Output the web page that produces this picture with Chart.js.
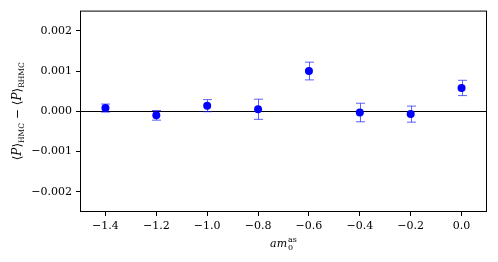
<!DOCTYPE html>
<html>
<head>
<meta charset="utf-8">
<script src="https://cdn.jsdelivr.net/npm/chart.js@4"></script>
<style>
  html, body { margin: 0; padding: 0; background: #fff; }
  #wrap { width: 498px; height: 262px; }
</style>
</head>
<body>
<div id="wrap"><canvas id="chart"></canvas></div>
<script>
// values
const masses = [-1.4, -1.2, -1.0, -0.8, -0.6, -0.4, -0.2, 0.0];
const diffs = [0.00008, -0.0001, 0.00014, 0.00005, 0.001, -0.00003, -0.00007, 0.00058];
const errors = [0.0001, 0.00012, 0.00015, 0.00025, 0.00022, 0.00023, 0.0002, 0.00019];
const xTicks = [-1.4, -1.2, -1.0, -0.8, -0.6, -0.4, -0.2, 0.0];
const yTicks = [-0.002, -0.001, 0.0, 0.001, 0.002];

const serif = "'DejaVu Serif', serif";

const fmt = (v, d) => {
  let s = Math.abs(v).toFixed(d);
  return (v < -1e-12 ? "\u2212" : "") + s;
};

// error bars, zero line, frame and axis titles
const extras = {
  id: "extras",
  beforeDatasetsDraw(chart) {
    const { ctx, chartArea: a, scales: { x, y } } = chart;
    ctx.save();
    // zero line
    const y0 = y.getPixelForValue(0);
    ctx.strokeStyle = "#000";
    ctx.lineWidth = 1;
    ctx.beginPath();
    ctx.moveTo(a.left, Math.round(y0) + 0.5);
    ctx.lineTo(a.right, Math.round(y0) + 0.5);
    ctx.stroke();
    // error bars
    ctx.strokeStyle = "rgba(30,30,255,0.7)";
    masses.forEach((m, i) => {
      const px = Math.round(x.getPixelForValue(m)) + 0.5;
      const top = y.getPixelForValue(diffs[i] + errors[i]);
      const bot = y.getPixelForValue(diffs[i] - errors[i]);
      ctx.beginPath();
      ctx.moveTo(px, top);
      ctx.lineTo(px, bot);
      ctx.moveTo(px - 4.5, top);
      ctx.lineTo(px + 4.5, top);
      ctx.moveTo(px - 4.5, bot);
      ctx.lineTo(px + 4.5, bot);
      ctx.stroke();
    });
    ctx.restore();
  },
  afterDraw(chart) {
    const { ctx, chartArea: a } = chart;
    ctx.save();
    ctx.strokeStyle = "#000";
    ctx.lineWidth = 1;
    ctx.strokeRect(a.left + 0.5, a.top + 0.5, a.right - a.left - 1, a.bottom - a.top - 1);

    // x title: a m_0^{as}
    ctx.fillStyle = "#000";
    ctx.textBaseline = "alphabetic";
    ctx.font = "italic 11px " + serif;
    const main = "am";
    const wMain = ctx.measureText(main).width;
    ctx.font = "italic 8px " + serif;
    const wSub = ctx.measureText("0").width;
    const wSup = ctx.measureText("as").width;
    const total = wMain + Math.max(wSub, wSup) + 1;
    let cx = (a.left + a.right) / 2 - total / 2;
    const base = 247;
    ctx.font = "italic 11px " + serif;
    ctx.fillText(main, cx, base);
    ctx.font = "8px " + serif;
    ctx.fillText("0", cx + wMain + 1, base + 3);
    ctx.fillText("as", cx + wMain + 1, base - 5);

    // y title: <P>_HMC - <P>_RHMC, rotated
    ctx.translate(18, (a.top + a.bottom) / 2);
    ctx.rotate(-Math.PI / 2);
    const parts = [
      ["\u27E8", "12px " + serif, 0],
      ["P", "italic 12px " + serif, 0],
      ["\u27E9", "12px " + serif, 0],
      ["HMC", "7.5px " + serif, 3],
      [" \u2212 ", "12px " + serif, 0],
      ["\u27E8", "12px " + serif, 0],
      ["P", "italic 12px " + serif, 0],
      ["\u27E9", "12px " + serif, 0],
      ["RHMC", "7.5px " + serif, 3]
    ];
    let w = 0;
    parts.forEach(p => { ctx.font = p[1]; w += ctx.measureText(p[0]).width; });
    let px = -w / 2;
    parts.forEach(p => {
      ctx.font = p[1];
      ctx.fillText(p[0], px, 3 + p[2]);
      px += ctx.measureText(p[0]).width;
    });
    ctx.restore();
  }
};

new Chart(document.getElementById("chart"), {
  type: "scatter",
  data: {
    datasets: [{
      data: masses.map((m, i) => ({ x: m, y: diffs[i] })),
      backgroundColor: "#0000ff",
      borderColor: "#0000ff",
      pointRadius: 4,
      pointHoverRadius: 4,
      borderWidth: 0
    }]
  },
  options: {
    responsive: true,
    maintainAspectRatio: false,
    animation: false,
    events: [],
    layout: { padding: { top: 10, right: 11, left: 0, bottom: 0 } },
    plugins: { legend: { display: false }, tooltip: { enabled: false } },
    scales: {
      x: {
        type: "linear",
        min: -1.5,
        max: 0.1,
        afterBuildTicks: (s) => { s.ticks = xTicks.map(v => ({ value: v })); },
        afterFit: (s) => { s.height = 50; },
        grid: { drawOnChartArea: false, drawTicks: true, tickLength: 4, tickColor: "#000", tickWidth: 1 },
        border: { display: false },
        ticks: {
          color: "#000",
          font: { family: serif, size: 11 },
          padding: 4,
          maxRotation: 0,
          callback: (v) => fmt(v, 1)
        }
      },
      y: {
        type: "linear",
        min: -0.0025,
        max: 0.0025,
        afterBuildTicks: (s) => { s.ticks = yTicks.map(v => ({ value: v })); },
        afterFit: (s) => { s.width = 80; },
        grid: { drawOnChartArea: false, drawTicks: true, tickLength: 4, tickColor: "#000", tickWidth: 1 },
        border: { display: false },
        ticks: {
          color: "#000",
          font: { family: serif, size: 11 },
          padding: 4,
          callback: (v) => fmt(v, 3)
        }
      }
    }
  },
  plugins: [extras]
});
</script>
</body>
</html>
